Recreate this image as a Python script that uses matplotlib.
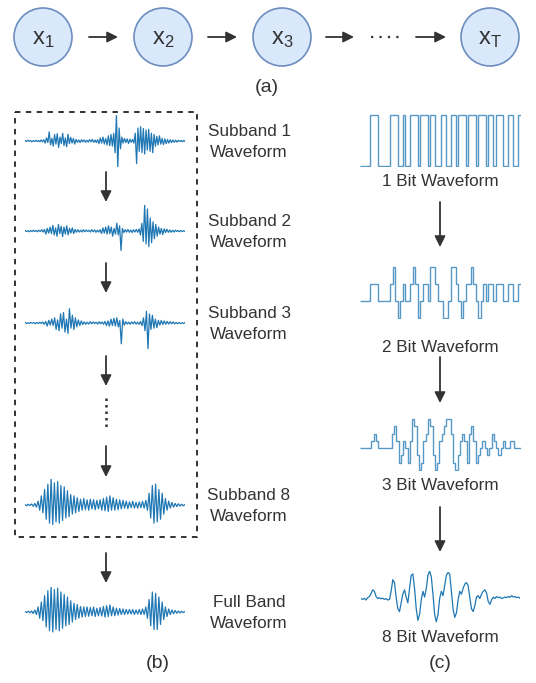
import numpy as np
import matplotlib.pyplot as plt
from matplotlib.patches import Circle, Rectangle

plt.rcParams['font.family'] = ['Liberation Sans', 'DejaVu Sans']

W, H = 536, 683
TXT = '#333333'
BLUE = '#1f77b4'

# (a) chain of states
node_labels = ['1', '2', '3', 'T']

# (b) subband / full band waveforms, amplitude (-1..1)
sub1 = [0.02, -0.02, 0.03, -0.01, 0.02, -0.03, 0.01, -0.02, 0.03, -0.02, 0.02, -0.03, 0.04, -0.03, 0.05,
        -0.08, 0.12, -0.06, 0.35, -0.15, 0.1, -0.2, 0.25, -0.12, 0.28, -0.25, 0.15, -0.1, 0.3, -0.18,
        0.12, -0.22, 0.26, -0.1, 0.14, -0.08, 0.1, -0.12, 0.06, -0.05,
        0.04, -0.06, 0.05, -0.03, 0.04, -0.05, 0.03, -0.04, 0.05, -0.03, 0.06, -0.05, 0.04, -0.06, 0.05,
        -0.1, 0.12, -0.08, 0.15, -0.12, 0.1, -0.15, 0.2, -0.18, 0.25, -0.2, 0.3, -0.45, 1.0, -1.0, 0.5, -0.3, 0.15,
        -0.08, 0.1, -0.06, 0.08, -0.1, 0.07, -0.05, 0.06, -0.08,
        0.3, -0.87, 0.5, -0.4, 0.55, -0.45, 0.48, -0.5, 0.42, -0.35, 0.45, -0.4, 0.3, -0.45, 0.25,
        -0.2, 0.18, -0.15, 0.2, -0.12, 0.1, -0.14, 0.08, -0.1, 0.06, -0.08, 0.05, -0.06, 0.04, -0.05,
        0.03, -0.04, 0.03, -0.02, 0.02, -0.03, 0.02, -0.02]
sub2 = [0.02, -0.02, 0.01, -0.03, 0.02, -0.02, 0.03, -0.02, 0.02, -0.03, 0.03, -0.02, 0.05, -0.04, 0.06,
        -0.12, 0.1, -0.08, 0.15, -0.1, 0.22, -0.15, 0.12, -0.2, 0.25, -0.1, 0.18, -0.22, 0.15, -0.12,
        0.2, -0.15, 0.1, -0.08, 0.12, -0.1, 0.06, -0.05, 0.05, -0.04,
        0.03, -0.04, 0.05, -0.03, 0.04, -0.02, 0.03, -0.04, 0.05, -0.03, 0.04, -0.05, 0.03, -0.04, 0.05,
        -0.1, 0.12, -0.08, 0.15, -0.12, 0.2, -0.1, 0.15, -0.2, 0.1, -0.12, 0.3, -0.15, 0.2, -0.75, 0.1, -0.06,
        0.05, -0.04, 0.06, -0.05, 0.04, -0.06, 0.05, -0.04, 0.06, -0.05, 0.08,
        -0.15, 0.3, -0.4, 1.0, -0.5, 0.85, -0.6, 0.5, -0.45, 0.35, -0.3, 0.25, -0.2,
        0.15, -0.12, 0.1, -0.14, 0.08, -0.06, 0.07, -0.05, 0.04, -0.05, 0.03, -0.04, 0.03, -0.02,
        0.02, -0.03, 0.02, -0.02, 0.01, -0.02]
sub3 = [0.02, -0.02, 0.01, -0.02, 0.02, -0.01, 0.02, -0.03, 0.02, -0.02, 0.03, -0.02, 0.04, -0.05, 0.06,
        -0.12, 0.1, -0.08, 0.15, -0.1, 0.2, -0.25, 0.12, -0.3, 0.35, -0.2, 0.4, -0.35, 0.15, -0.4,
        0.55, -0.2, 0.3, -0.25, 0.2, -0.15, 0.12, -0.1, 0.08, -0.06,
        0.04, -0.05, 0.03, -0.04, 0.05, -0.03, 0.04, -0.02, 0.03, -0.04, 0.05, -0.03, 0.04, -0.05, 0.06,
        -0.1, 0.08, -0.12, 0.15, -0.1, 0.18, -0.12, 0.2, -0.15, 0.1, -0.8, 0.15, -0.08,
        0.05, -0.04, 0.03, -0.05, 0.04, -0.03, 0.05, -0.04, 0.03, -0.05, 0.06,
        -0.1, 0.2, -0.3, 0.45, -1.0, 0.35, -0.25, 0.3, -0.2, 0.15, -0.18, 0.1,
        -0.08, 0.1, -0.06, 0.08, -0.05, 0.06, -0.04, 0.05, -0.03, 0.04, -0.03, 0.02, -0.03,
        0.02, -0.02, 0.01, -0.02, 0.02]
sub8 = [0.02, -0.03, 0.03, -0.02, 0.04, -0.05, 0.06, -0.08,
        0.15, -0.2, 0.35, -0.3, 0.6,
        -0.55, 0.8, -0.7, 1.0, -0.75, 0.85, -0.65, 0.9,
        -0.7, 0.75, -0.6, 0.7, -0.5, 0.55, -0.45, 0.4, -0.35, 0.35, -0.3, 0.28,
        -0.25, 0.22, -0.2, 0.25, -0.18, 0.2, -0.2, 0.22, -0.15, 0.2, -0.18, 0.18, -0.15, 0.2, -0.2, 0.25,
        -0.22, 0.3, -0.25, 0.35, -0.2, 0.28, -0.2, 0.22, -0.18, 0.2, -0.15, 0.18, -0.12, 0.15, -0.14,
        0.12, -0.1, 0.14, -0.12, 0.1, -0.12, 0.12, -0.1, 0.14, -0.12, 0.18, -0.2,
        0.45, -0.5, 0.75, -0.7, 0.8, -0.65, 0.6, -0.55, 0.45, -0.35,
        0.25, -0.2, 0.15, -0.12, 0.1, -0.08, 0.06, -0.06, 0.05, -0.04, 0.03, -0.03, 0.02]
full = [0.02, -0.02, 0.03, -0.03, 0.04, -0.06, 0.08, -0.1,
        0.2, -0.25, 0.4, -0.35, 0.65,
        -0.6, 0.85, -0.75, 1.0, -0.8, 0.9, -0.7, 0.95,
        -0.75, 0.8, -0.65, 0.7, -0.55, 0.6, -0.5, 0.45, -0.4, 0.35, -0.3, 0.3,
        -0.25, 0.22, -0.2, 0.2, -0.18, 0.2, -0.17, 0.18, -0.15, 0.2, -0.18, 0.15, -0.15, 0.18, -0.16, 0.22,
        -0.2, 0.25, -0.18, 0.28, -0.15, 0.2, -0.15, 0.15, -0.12, 0.14, -0.1, 0.12, -0.1, 0.1, -0.08,
        0.1, -0.08, 0.1, -0.1, 0.08, -0.08, 0.1, -0.1, 0.12, -0.1, 0.2, -0.25,
        0.5, -0.55, 0.8, -0.7, 0.75, -0.7, 0.6, -0.5, 0.4, -0.3,
        0.2, -0.18, 0.12, -0.1, 0.08, -0.07, 0.06, -0.05, 0.04, -0.04, 0.03, -0.02, 0.02]

# (c) quantised waveforms: level of each sample
bit1 = [int(c) for c in "0000" "111" "00000" "111" "00" "1" "00" "111" "0" "111" "0" "11" "00" "11"
        "00" "11" "0" "111" "0" "111" "0" "111" "0" "11" "0" "111" "00" "11" "00" "1"]
bit2 = [int(c) for c in "1111" "222" "11111" "2310121123" "2012213321" "1001332101" "2232101212"
        "2122211221" "12"]
bit3 = [int(c) for c in "33333" "4543" "33333" "56412431476201" "4576201456775" "1024541564"
        "1234323543" "2343344333"]
bit8 = [0.05, 0.02, 0.06, 0.0, 0.08, 0.12, 0.22, 0.35, 0.3, 0.12, 0.05, 0.08, 0.04, 0.06, 0.02, 0.05,
        0.0, 0.02, 0.3, 0.7, 0.6, 0.1, -0.3, -0.4, -0.1, 0.2, 0.35, 0.1, -0.1, 0.4, 0.85, 0.9, 0.4,
        -0.3, -0.7, -0.5, 0.0, 0.3, 0.1, 0.4, 0.85, 1.0, 0.8, 0.2, -0.5, -0.75, -0.5, 0.05, 0.3, 0.15,
        0.5, 0.85, 0.95, 0.9, 0.3, -0.3, -0.6, -0.45, 0.0, 0.3, 0.2, 0.4, 0.55, 0.6, 0.5, 0.1, -0.3,
        -0.4, -0.2, 0.1, 0.15, 0.05, 0.2, 0.3, 0.35, 0.25, -0.05, -0.15, 0.0, 0.1, 0.05, 0.12, 0.08,
        0.1, 0.05, 0.07, 0.1, 0.08, 0.12, 0.09, 0.15, 0.1, 0.12, 0.08, 0.1, 0.06]
bit_names = ['1 Bit Waveform', '2 Bit Waveform', '3 Bit Waveform', '8 Bit Waveform']

fig = plt.figure(figsize=(W / 100, H / 100), dpi=100)
ax = fig.add_axes([0, 0, 1, 1])
ax.set_xlim(0, W)
ax.set_ylim(H, 0)
ax.axis('off')


def wave_axes(x0, x1, top, bottom):
    a = fig.add_axes([x0 / W, 1 - bottom / H, (x1 - x0) / W, (bottom - top) / H])
    a.axis('off')
    return a


def arrow(x, y0, y1, horizontal=False):
    if horizontal:
        xy, xytext = (y1, x), (y0, x)
    else:
        xy, xytext = (x, y1), (x, y0)
    ax.annotate('', xy=xy, xytext=xytext,
                arrowprops=dict(arrowstyle='-|>', color=TXT, lw=1.3, mutation_scale=16,
                                shrinkA=0, shrinkB=0))


# ---- (a)
for cx, lab in zip([43, 163, 282, 490], node_labels):
    ax.add_patch(Circle((cx, 37), 29, facecolor='#dae8fc', edgecolor='#6c8ebf', lw=1.2))
    ax.text(cx, 39, r'$\mathregular{x_{%s}}$' % lab, fontsize=17, color=TXT, ha='center', va='center')
for x0, x1 in [(89, 118), (208, 237), (326, 354), (416, 446)]:
    arrow(37, x0, x1, horizontal=True)
ax.plot([371, 400], [37, 37], ls=(0, (1, 2.8)), color=TXT, lw=1.6)
ax.text(267, 88, '(a)', fontsize=14, color=TXT, ha='center', va='center')

# ---- (b)
ax.add_patch(Rectangle((15, 112), 182, 425, fill=False, ls=(0, (3, 3)), lw=1.3, edgecolor='#222222'))
waves = [(sub1, 141, 26), (sub2, 231, 26), (sub3, 323, 26), (sub8, 505, 26), (full, 612, 25)]
for vals, yc, hh in waves:
    a = wave_axes(25, 185, yc - hh, yc + hh)
    a.plot(np.arange(len(vals)), vals, color=BLUE, lw=0.9)
    a.set_xlim(0, len(vals) - 1)
    a.set_ylim(-1, 1)

for y0, y1 in [(172, 202), (263, 293), (356, 386), (446, 477), (553, 583)]:
    arrow(106, y0, y1)
ax.plot([106, 106], [398, 428], ls=(0, (1, 1.6)), color=TXT, lw=1.8)

labels_b = ['Subband 1\nWaveform', 'Subband 2\nWaveform', 'Subband 3\nWaveform',
            'Subband 8\nWaveform', 'Full Band\nWaveform']
for (vals, yc, hh), lab in zip(waves, labels_b):
    ax.text(249, yc + 1, lab, fontsize=12.3, color=TXT, ha='center', va='center', linespacing=1.45)
ax.text(158, 664, '(b)', fontsize=14, color=TXT, ha='center', va='center')

# ---- (c)
steps = [(bit1, 114, 167, 1), (bit2, 266, 319, 3), (bit3, 418, 471, 7)]
for vals, top, bottom, vmax in steps:
    a = wave_axes(360, 521, top, bottom)
    a.stairs(vals, np.arange(len(vals) + 1), baseline=None, color=BLUE, lw=1.0, alpha=0.75)
    a.set_xlim(0, len(vals))
    a.set_ylim(-0.02 * vmax, vmax * 1.02)

a = wave_axes(361, 520, 571, 629)
a.plot(np.arange(len(bit8)), bit8, color=BLUE, lw=0.9)
a.set_xlim(0, len(bit8) - 1)
a.set_ylim(-1, 1)

for ty, name in zip([181, 348, 485, 637], bit_names):
    ax.text(440, ty, name, fontsize=12.3, color=TXT, ha='center', va='center')

for y0, y1 in [(202, 247), (357, 403), (507, 552)]:
    arrow(440, y0, y1)
ax.text(440, 664, '(c)', fontsize=14, color=TXT, ha='center', va='center')

fig.savefig('out.png', dpi=100)
